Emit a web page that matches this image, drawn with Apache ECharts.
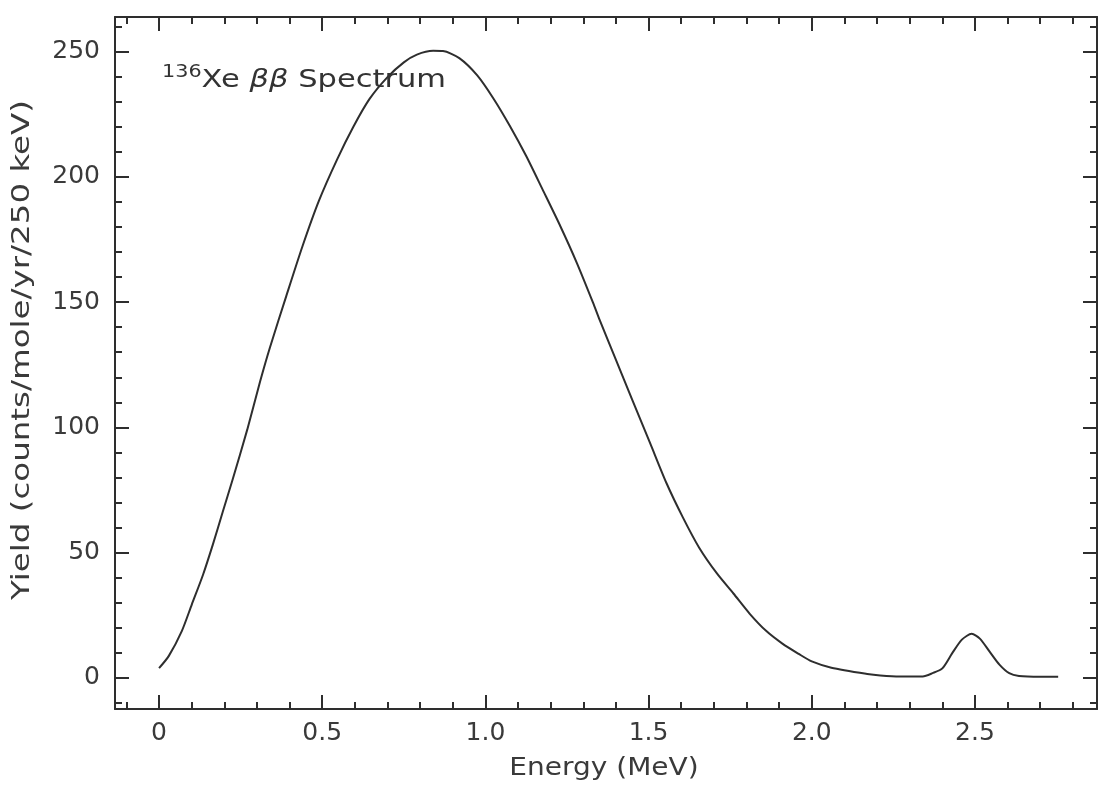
<!DOCTYPE html>
<html>
<head>
<meta charset="utf-8">
<title>136Xe double-beta spectrum</title>
<script src="https://cdn.jsdelivr.net/npm/echarts@6/dist/echarts.min.js"></script>
<style>
  html, body { margin: 0; padding: 0; background: #ffffff; }
  #chart { width: 1108px; height: 786px; }
</style>
</head>
<body>
<div id="chart"></div>
<script>
// Two-neutrino double-beta spectrum of 136Xe (yield per 250 keV bin)
const energy = [
  0.00, 0.03, 0.07, 0.10, 0.135, 0.165, 0.195, 0.225, 0.27, 0.31,
  0.34, 0.39, 0.44, 0.49, 0.545, 0.595, 0.645, 0.70, 0.75, 0.79,
  0.84, 0.87, 0.92, 0.975, 1.025, 1.075, 1.125, 1.175, 1.23, 1.28,
  1.33, 1.35, 1.40, 1.45, 1.505, 1.555, 1.605, 1.655, 1.71, 1.76,
  1.81, 1.86, 1.91, 1.96, 2.00, 2.06, 2.17, 2.21, 2.27, 2.34,
  2.37, 2.40, 2.43, 2.46, 2.49, 2.515, 2.545, 2.575, 2.605, 2.635,
  2.70, 2.755
];
const yieldCounts = [
  3.9, 8.8, 18.8, 29.2, 41.3, 53.3, 66.2, 79.0, 99.0, 118.5,
  132.0, 152.5, 172.5, 190.5, 206.8, 219.9, 231.1, 239.8, 245.7, 248.8,
  250.3, 250.2, 247.4, 240.5, 231.2, 220.3, 208.3, 195.0, 180.2, 165.7,
  149.7, 142.9, 126.9, 111.0, 93.6, 77.7, 64.1, 52.0, 41.6, 33.7,
  25.6, 18.8, 13.7, 9.6, 6.6, 4.1, 1.6, 1.0, 0.6, 0.6,
  1.9, 3.8, 9.8, 15.3, 17.6, 15.7, 10.5, 5.3, 1.9, 0.8,
  0.5, 0.5
];

// Axis ticks and their labels
const xMajorTicks = [0, 0.5, 1.0, 1.5, 2.0, 2.5];
const xMajorLabels = ['0', '0.5', '1.0', '1.5', '2.0', '2.5'];
const xMinorTicks = [-0.1, 0.1, 0.2, 0.3, 0.4, 0.6, 0.7, 0.8, 0.9, 1.1, 1.2, 1.3, 1.4,
  1.6, 1.7, 1.8, 1.9, 2.1, 2.2, 2.3, 2.4, 2.6, 2.7, 2.8];
const yMajorTicks = [0, 50, 100, 150, 200, 250];
const yMajorLabels = ['0', '50', '100', '150', '200', '250'];
const yMinorTicks = [-10, 10, 20, 30, 40, 60, 70, 80, 90, 110, 120, 130, 140,
  160, 170, 180, 190, 210, 220, 230, 240, 260];

const titleText = 'Xe';
const xTitle = 'Energy (MeV)';
const yTitle = 'Yield (counts/mole/yr/250 keV)';

const INK = '#2e2e2e';
const FONT = 'DejaVu Sans';
const X_RANGE = { min: -0.135, max: 2.874 };
const Y_RANGE = { min: -12.4, max: 263.8 };

function xAxisDef(position, ticks, len, showLine, labels) {
  return {
    type: 'value', position: position, min: X_RANGE.min, max: X_RANGE.max,
    axisLine: { show: showLine, onZero: false, lineStyle: { color: INK, width: 2 } },
    axisTick: { show: true, inside: true, length: len, customValues: ticks,
      lineStyle: { color: INK, width: 2 } },
    axisLabel: labels ? {
      show: true, customValues: xMajorTicks, margin: 12,
      fontFamily: FONT, fontSize: 25, color: '#3a3a3a',
      formatter: v => xMajorLabels[xMajorTicks.findIndex(t => Math.abs(t - v) < 1e-6)]
    } : { show: false },
    splitLine: { show: false }
  };
}
function yAxisDef(position, ticks, len, showLine, labels) {
  return {
    type: 'value', position: position, min: Y_RANGE.min, max: Y_RANGE.max,
    axisLine: { show: showLine, onZero: false, lineStyle: { color: INK, width: 2 } },
    axisTick: { show: true, inside: true, length: len, customValues: ticks,
      lineStyle: { color: INK, width: 2 } },
    axisLabel: labels ? {
      show: true, customValues: yMajorTicks, margin: 15,
      fontFamily: FONT, fontSize: 25, color: '#3a3a3a',
      formatter: v => yMajorLabels[yMajorTicks.findIndex(t => Math.abs(t - v) < 1e-6)]
    } : { show: false },
    splitLine: { show: false }
  };
}

const chart = echarts.init(document.getElementById('chart'), null, { renderer: 'canvas' });

chart.setOption({
  backgroundColor: '#ffffff',
  animation: false,
  grid: { left: 115, right: 11, top: 17, bottom: 77, containLabel: false },
  xAxis: [
    xAxisDef('bottom', xMajorTicks, 14, true, true),
    xAxisDef('bottom', xMinorTicks, 7, false, false),
    xAxisDef('top', xMajorTicks, 14, true, false),
    xAxisDef('top', xMinorTicks, 7, false, false)
  ],
  yAxis: [
    yAxisDef('left', yMajorTicks, 14, true, true),
    yAxisDef('left', yMinorTicks, 7, false, false),
    yAxisDef('right', yMajorTicks, 14, true, false),
    yAxisDef('right', yMinorTicks, 7, false, false)
  ],
  graphic: [
    {
      type: 'text', left: 162, top: 64, scaleX: 1.22, z: 10,
      style: {
        text: '{sup|136}{n|' + titleText + ' }{g|ββ}{n| Spectrum}',
        fill: '#333',
        rich: {
          sup: { fontFamily: FONT, fontSize: 17, verticalAlign: 'top', lineHeight: 32, fill: '#333' },
          n: { fontFamily: FONT, fontSize: 25, lineHeight: 32, fill: '#333' },
          g: { fontFamily: FONT, fontSize: 25, fontStyle: 'italic', lineHeight: 32, fill: '#333' }
        }
      }
    },
    {
      type: 'text', x: 604, y: 768, scaleX: 1.12, z: 10,
      style: { text: xTitle, fontFamily: FONT, fontSize: 25, fill: '#3a3a3a',
        align: 'center', verticalAlign: 'middle' }
    },
    {
      type: 'text', x: 22, y: 350, rotation: Math.PI / 2, scaleX: 1.3, z: 10,
      style: { text: yTitle, fontFamily: FONT, fontSize: 25, fill: '#3a3a3a',
        align: 'center', verticalAlign: 'middle' }
    }
  ],
  series: [{
    type: 'line',
    xAxisIndex: 0, yAxisIndex: 0,
    data: energy.map((e, i) => [e, yieldCounts[i]]),
    showSymbol: false,
    smooth: 0.25,
    lineStyle: { color: INK, width: 2 },
    clip: true
  }]
});
</script>
</body>
</html>
